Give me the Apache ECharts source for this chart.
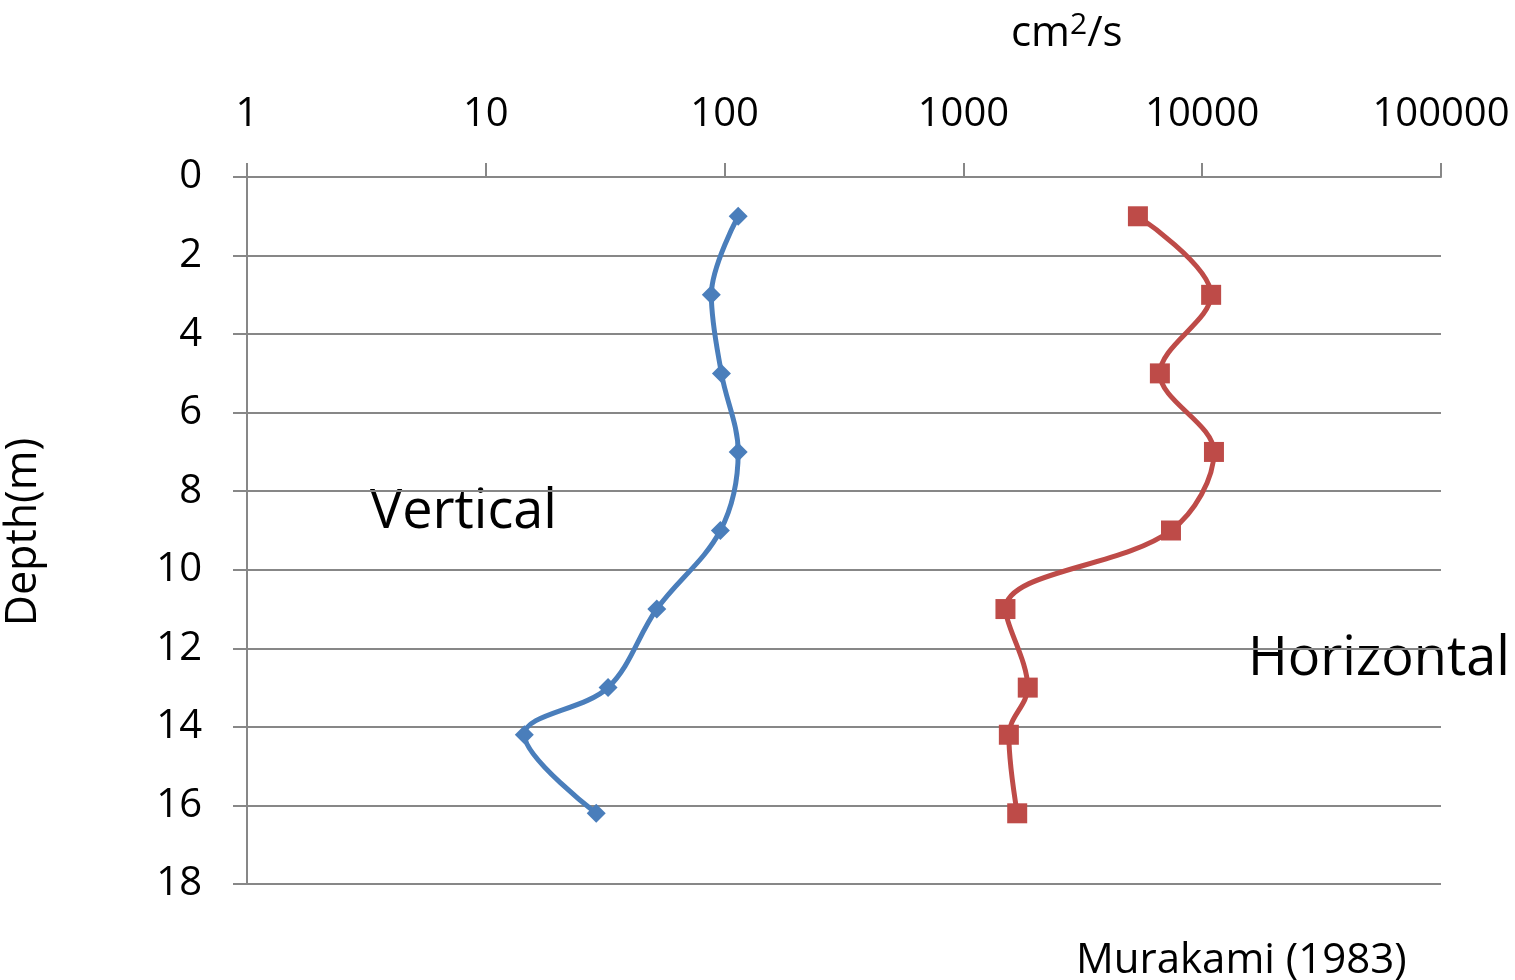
<!DOCTYPE html>
<html>
<head>
<meta charset="utf-8">
<script src="https://cdn.jsdelivr.net/npm/echarts@6/dist/echarts.min.js"></script>
<style>
html,body{margin:0;padding:0;background:#fff;}
#main{width:1515px;height:980px;}
</style>
</head>
<body>
<div id="main"></div>
<script>
// Data
const depthsV = [1, 3, 5, 7, 9, 11, 13, 14.2, 16.2];
const verticalValues = [114, 88, 97, 114, 96, 52, 32.5, 14.5, 29];
const depthsH = [1, 3, 5, 7, 9, 11, 13, 14.2, 16.2];
const horizontalValues = [5380, 10900, 6650, 11200, 7400, 1500, 1860, 1550, 1680];
const xTickValues = [1, 10, 100, 1000, 10000, 100000];
const yTickLabels = [0, 2, 4, 6, 8, 10, 12, 14, 16, 18];

const FONT = '"Open Sans", "Noto Sans", sans-serif';
const GRAY = '#878787';

const chart = echarts.init(document.getElementById('main'));
chart.setOption({
  animation: false,
  backgroundColor: '#ffffff',
  textStyle: { fontFamily: FONT },
  grid: { left: 247, right: 74, top: 177, bottom: 96, containLabel: false },
  xAxis: {
    type: 'log',
    logBase: 10,
    position: 'top',
    min: xTickValues[0],
    max: xTickValues[xTickValues.length - 1],
    axisLine: { show: true, lineStyle: { color: GRAY, width: 2 } },
    axisTick: { show: true, length: 14, lineStyle: { color: GRAY, width: 2 } },
    minorTick: { show: false },
    splitLine: { show: false },
    axisLabel: {
      margin: 42,
      fontSize: 40,
      color: '#000',
      fontFamily: FONT,
      formatter: v => String(Math.round(v))
    }
  },
  yAxis: {
    type: 'value',
    inverse: true,
    min: yTickLabels[0],
    max: yTickLabels[yTickLabels.length - 1],
    interval: 2,
    axisLine: { show: true, lineStyle: { color: GRAY, width: 2 } },
    axisTick: { show: true, length: 14, lineStyle: { color: GRAY, width: 2 } },
    splitLine: { show: true, lineStyle: { color: GRAY, width: 2 } },
    axisLabel: {
      margin: 45,
      fontSize: 40,
      color: '#000',
      fontFamily: FONT,
      formatter: v => String(v)
    }
  },
  series: [
    {
      name: 'Vertical',
      type: 'line',
      smooth: 0.35,
      data: verticalValues.map((v, i) => [v, depthsV[i]]),
      symbol: 'diamond',
      symbolSize: 19,
      lineStyle: { color: '#4a7ebb', width: 5 },
      itemStyle: { color: '#4a7ebb' }
    },
    {
      name: 'Horizontal',
      type: 'line',
      smooth: 0.35,
      data: horizontalValues.map((v, i) => [v, depthsH[i]]),
      symbol: 'rect',
      symbolSize: 20,
      lineStyle: { color: '#be4b48', width: 5 },
      itemStyle: { color: '#be4b48' }
    }
  ],
  graphic: [
    {
      type: 'text', left: 1011, top: 10,
      style: {
        text: 'cm{sup|2}/s',
        font: '42px ' + FONT,
        fill: '#000',
        rich: { sup: { fontSize: 30, verticalAlign: 'top', padding: [0, 0, 18, 0], fontFamily: FONT } }
      }
    },
    {
      type: 'text', x: 24, y: 532, rotation: Math.PI / 2,
      style: { text: 'Depth(m)', font: '43px ' + FONT, fill: '#000', align: 'center', verticalAlign: 'middle' }
    },
    {
      type: 'text', left: 370, top: 486,
      style: { text: 'Vertical', font: '54px ' + FONT, fill: '#000' }
    },
    {
      type: 'text', left: 1248, top: 633,
      style: { text: 'Horizontal', font: '54px ' + FONT, fill: '#000' }
    },
    {
      type: 'text', left: 1076, top: 940,
      style: { text: 'Murakami (1983)', font: '42px ' + FONT, fill: '#000' }
    }
  ]
});
</script>
</body>
</html>
